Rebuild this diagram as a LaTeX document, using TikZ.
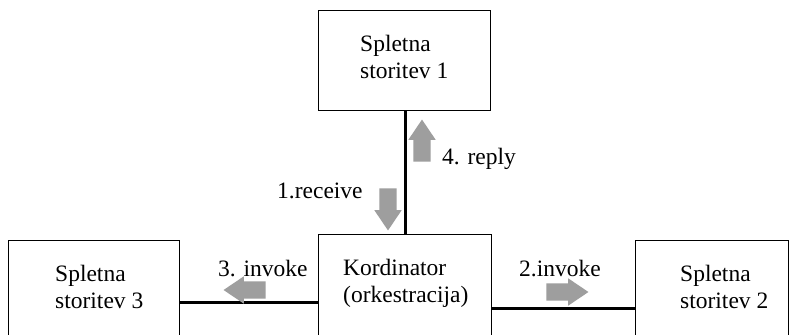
\documentclass[tikz,border=0pt]{standalone}
\usepackage{fontspec}
\setmainfont{Liberation Serif}
\usetikzlibrary{shapes.arrows}
\begin{document}
\begin{tikzpicture}[x=1pt,y=-1pt,
  box/.style={draw=black,line width=0.9pt,fill=white},
  boxtext/.style={align=left,font=\fontsize{23.5}{27}\selectfont,inner sep=0pt},
  lbl/.style={font=\fontsize{23.5}{27}\selectfont,inner sep=0pt,anchor=base west},
  link/.style={line width=3pt,black},
  flow/.style={single arrow,fill=black!38,draw=none,inner sep=8.5pt,
    single arrow head extend=5pt,single arrow tip angle=68,minimum height=42pt}]
\useasboundingbox (0,0) rectangle (796,335);
\clip (0,0) rectangle (796,335);
\fill[white] (0,0) rectangle (796,335);
% service and coordinator boxes
\draw[box] (318,10) rectangle (490,110);
\draw[box] (318,234) rectangle (491,345);
\draw[box] (8,240) rectangle (179,345);
\draw[box] (635,240) rectangle (788,345);
\coordinate (ws1s) at (405,110);
\coordinate (kordn) at (405,234);
\coordinate (kordw) at (318,302);
\coordinate (ws3e) at (179,302);
\coordinate (korde) at (491,308);
\coordinate (ws2w) at (635,308);
% connectors
\draw[link] (ws1s) -- (kordn);
\draw[link] (kordw) -- (ws3e);
\draw[link] (korde) -- (ws2w);
% box texts
\node[boxtext,anchor=north west] (ws1) at (360,35) {Spletna\\storitev 1};
\node[boxtext,anchor=north west] (kord) at (343,259) {Kordinator\\(orkestracija)};
\node[boxtext,anchor=north west] (ws3) at (55,265) {Spletna\\storitev 3};
\node[boxtext,anchor=north west] (ws2) at (680,265) {Spletna\\storitev 2};
% message flow arrows
\node[flow,shape border rotate=270] (recv) at (388,203) {};
\node[flow,shape border rotate=90] (repl) at (422,147) {};
\node[flow,shape border rotate=180] (inv3) at (251,290) {};
\node[flow] (inv2) at (561,292) {};
% labels
\node[lbl] (lrecv) at (277,198) {1.receive};
\node[lbl] (lrepl) at (442,164) {4. reply};
\node[lbl] (linv3) at (218,276) {3. invoke};
\node[lbl] (linv2) at (519,276) {2.invoke};
\end{tikzpicture}
\end{document}
